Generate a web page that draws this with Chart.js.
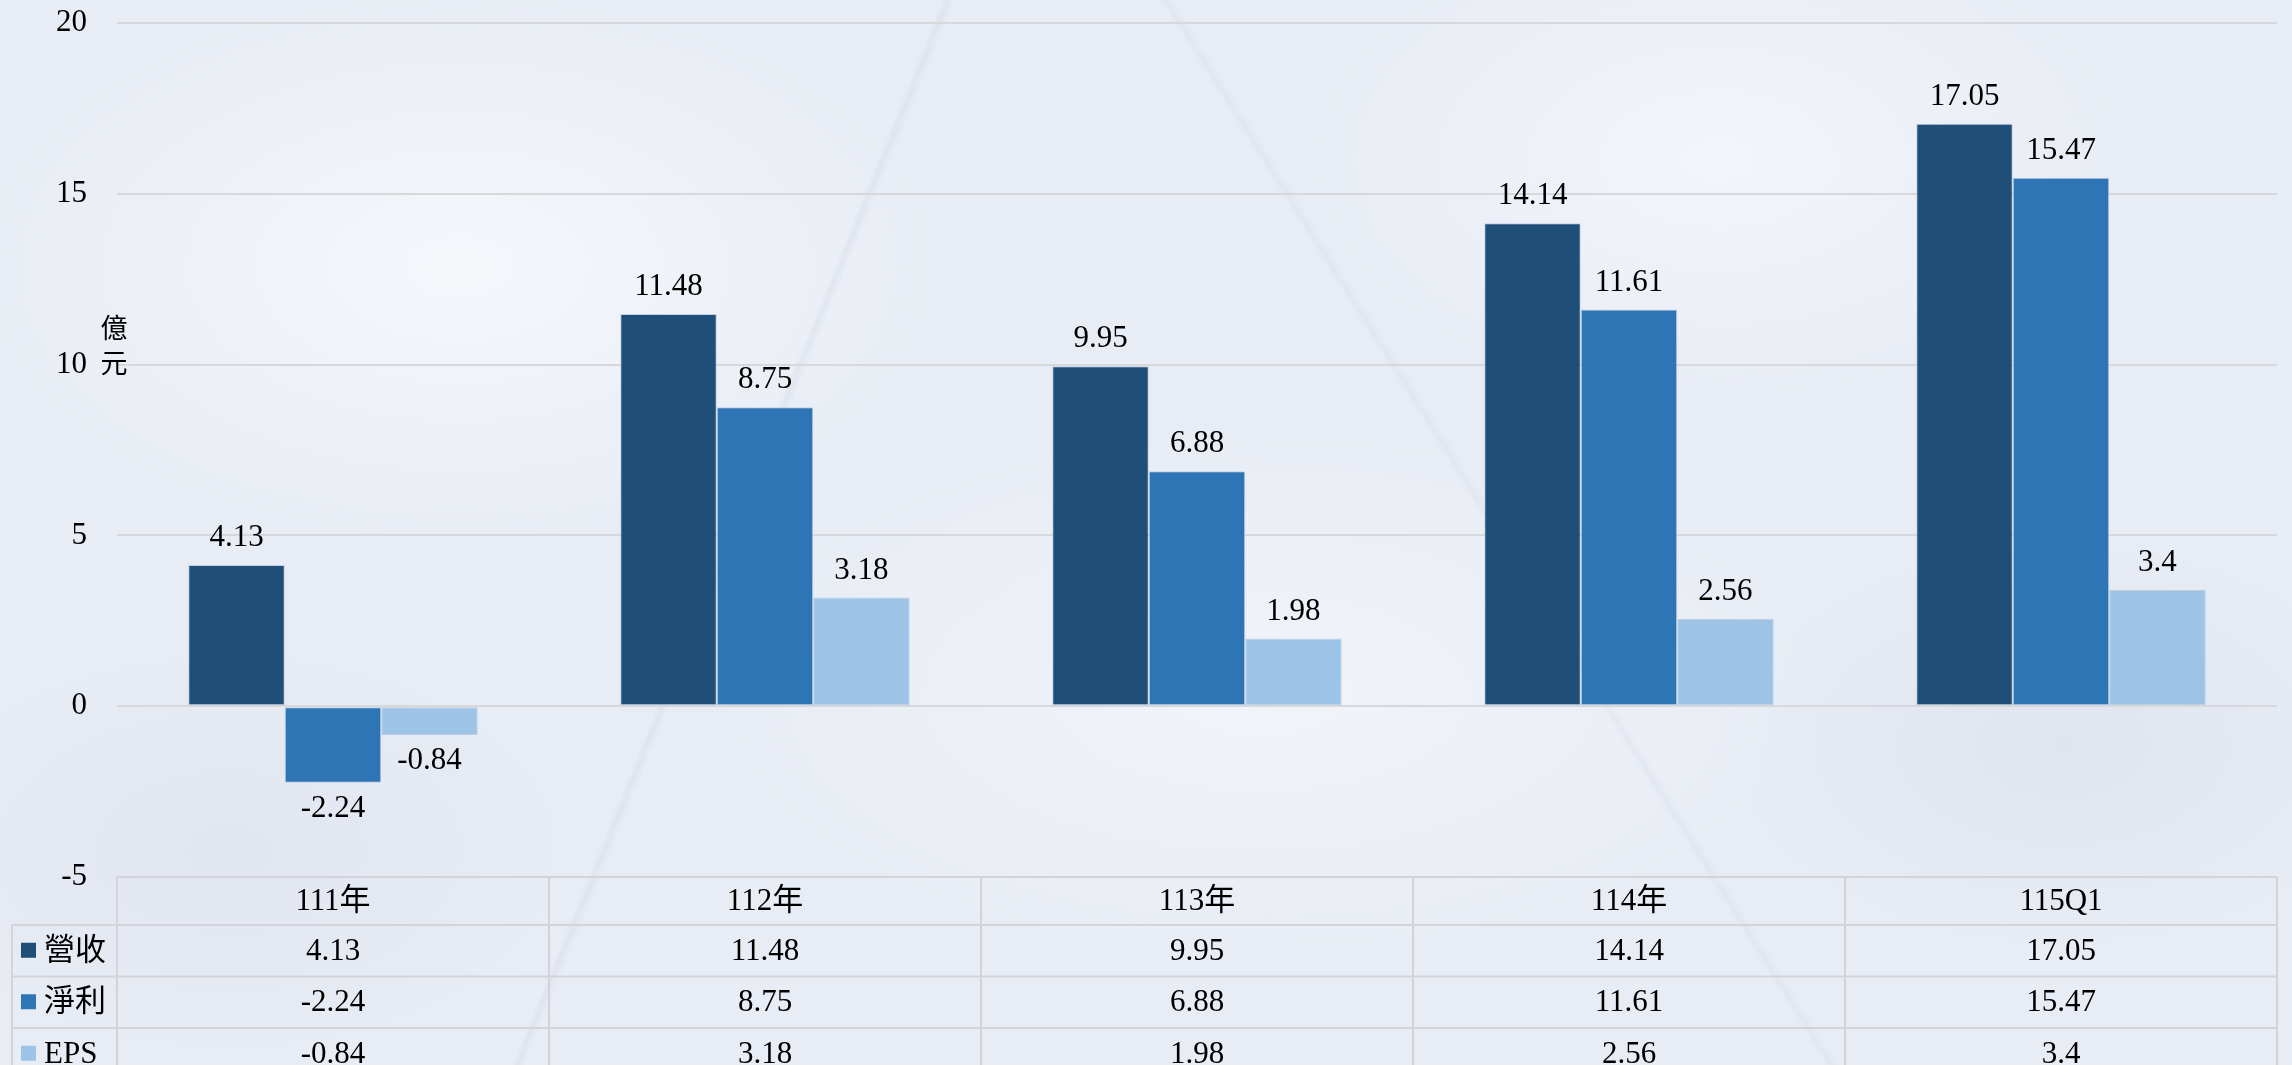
<!DOCTYPE html>
<html>
<head>
<meta charset="utf-8">
<script src="https://cdn.jsdelivr.net/npm/chart.js@4.4.1/dist/chart.umd.min.js"></script>
<style>
  html, body { margin: 0; padding: 0; }
  body {
    width: 2292px; height: 1065px; overflow: hidden;
    background-color: #e8ecf4;
    background-image:
      linear-gradient(112deg, transparent 34.6%, rgba(205,212,228,0.35) 34.8%, transparent 35.1%),
      linear-gradient(58deg, transparent 61.7%, rgba(210,216,230,0.3) 61.9%, transparent 62.2%),
      radial-gradient(ellipse 700px 400px at 20% 25%, rgba(248,250,253,0.8), transparent 70%),
      radial-gradient(ellipse 600px 350px at 75% 15%, rgba(246,248,252,0.75), transparent 70%),
      radial-gradient(ellipse 800px 380px at 55% 65%, rgba(245,247,251,0.7), transparent 70%),
      radial-gradient(ellipse 500px 300px at 90% 70%, rgba(216,222,236,0.55), transparent 70%),
      radial-gradient(ellipse 500px 300px at 10% 80%, rgba(218,224,237,0.55), transparent 70%);
  }
  #wrap { position: relative; width: 2292px; height: 1065px; }
</style>
</head>
<body>
<div id="wrap"><canvas id="chart"></canvas></div>
<script>
/* 營收 / 淨利 / EPS bar chart with data table */

const categories = ['111年', '112年', '113年', '114年', '115Q1'];
const seriesNames = ['營收', '淨利', 'EPS'];
const revenue   = [4.13, 11.48, 9.95, 14.14, 17.05];
const netIncome = [-2.24, 8.75, 6.88, 11.61, 15.47];
const eps       = [-0.84, 3.18, 1.98, 2.56, 3.4];
const yMin = -5, yMax = 20, yStep = 5;
const yTitle = ['億', '元'];

const COLORS = ['#1f4e79', '#2e75b6', '#9dc3e6'];
const SERIF = '"Liberation Serif", "Noto Sans CJK TC", serif';

// value labels above (or below, if negative) each bar
const barLabels = {
  id: 'barLabels',
  afterDatasetsDraw(chart) {
    const ctx = chart.ctx;
    ctx.save();
    ctx.font = '31px ' + SERIF;
    ctx.fillStyle = '#000';
    ctx.textAlign = 'center';
    ctx.textBaseline = 'middle';
    chart.data.datasets.forEach((ds, di) => {
      chart.getDatasetMeta(di).data.forEach((bar, i) => {
        const v = ds.data[i];
        const y = v >= 0 ? bar.y - 27 : bar.y + 26;
        ctx.fillText(String(v), bar.x, y);
      });
    });
    ctx.restore();
  }
};

// axis title + data table under the plot
const dataTable = {
  id: 'dataTable',
  afterDraw(chart) {
    const { ctx, chartArea: a } = chart;
    const n = categories.length;
    const cw = (a.right - a.left) / n;
    const headH = 48, rowH = 51.5;
    const top = a.bottom;
    const keyLeft = 12;
    const bottom = top + headH + rowH * seriesNames.length;
    const line = (x1, y1, x2, y2) => { ctx.beginPath(); ctx.moveTo(x1, y1); ctx.lineTo(x2, y2); ctx.stroke(); };

    ctx.save();
    // y title, stacked characters
    ctx.font = '27px ' + SERIF;
    ctx.fillStyle = '#000';
    ctx.textAlign = 'center';
    ctx.textBaseline = 'middle';
    yTitle.forEach((ch, i) => ctx.fillText(ch, 114, 331 + i * 35));

    ctx.strokeStyle = '#d2d4d8';
    ctx.lineWidth = 2;
    line(a.left, top, a.right, top);
    for (let r = 0; r < seriesNames.length; r++) {
      const y = top + headH + r * rowH;
      line(keyLeft, y, a.right, y);
    }
    line(keyLeft, bottom, a.right, bottom);
    for (let i = 0; i <= n; i++) line(a.left + i * cw, top, a.left + i * cw, bottom);
    line(keyLeft, top + headH, keyLeft, bottom);

    ctx.font = '31px ' + SERIF;
    ctx.fillStyle = '#000';
    ctx.textAlign = 'center';
    categories.forEach((c, i) => ctx.fillText(c, a.left + (i + 0.5) * cw, top + headH / 2 + 1));

    chart.data.datasets.forEach((ds, r) => {
      const cy = top + headH + r * rowH + rowH / 2;
      ctx.fillStyle = COLORS[r];
      ctx.fillRect(21, cy - 8, 15, 15);
      ctx.fillStyle = '#000';
      ctx.textAlign = 'left';
      ctx.fillText(seriesNames[r], 44, cy + 1);
      ctx.textAlign = 'center';
      ds.data.forEach((v, i) => ctx.fillText(String(v), a.left + (i + 0.5) * cw, cy + 1));
    });
    ctx.restore();
  }
};

const mkSet = (label, data, color) => ({
  label, data,
  backgroundColor: color,
  borderColor: 'rgba(160,185,215,0.6)',
  borderWidth: 1,
  borderSkipped: false,
  barPercentage: 1,
  categoryPercentage: 0.67
});

new Chart(document.getElementById('chart'), {
  type: 'bar',
  data: {
    labels: categories,
    datasets: [
      mkSet(seriesNames[0], revenue, COLORS[0]),
      mkSet(seriesNames[1], netIncome, COLORS[1]),
      mkSet(seriesNames[2], eps, COLORS[2])
    ]
  },
  options: {
    responsive: true, maintainAspectRatio: false,
    animation: false,
    devicePixelRatio: 1,
    layout: { padding: { left: 0, right: 15, top: 23, bottom: 188 } },
    plugins: { legend: { display: false }, tooltip: { enabled: false } },
    scales: {
      x: { display: false },
      y: {
        min: yMin, max: yMax,
        ticks: { stepSize: yStep, color: '#000', padding: 30, font: { family: SERIF, size: 31 } },
        grid: { color: '#d6d8dc', lineWidth: 2, drawTicks: false },
        border: { display: false },
        afterFit: s => { s.width = 117; s.paddingTop = 0; s.paddingBottom = 0; }
      }
    }
  },
  plugins: [barLabels, dataTable]
});
</script>
</body>
</html>
